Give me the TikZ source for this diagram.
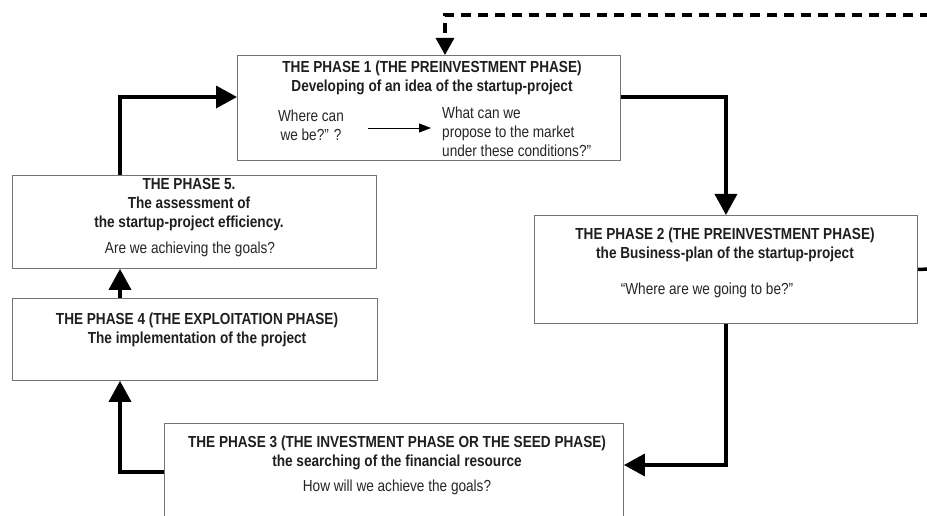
\documentclass[tikz,border=0pt]{standalone}
\usepackage{fontspec}
\setmainfont{Liberation Sans}[FakeStretch=0.85]
\usetikzlibrary{arrows.meta,calc}
\begin{document}
\begin{tikzpicture}[x=1pt,y=-1pt,
  box/.style={draw=black!55, line width=0.9pt, fill=white, inner sep=0pt, anchor=north west},
  ttl/.style={font=\bfseries\fontsize{16}{19}\selectfont, text=black!88, align=center, inner sep=0pt},
  txt/.style={font=\fontsize{16}{19}\selectfont, text=black!85, inner sep=0pt},
  flow/.style={line width=3.5pt, -{Triangle[width=22pt,length=21pt]}},
  feed/.style={line width=3.2pt, dash pattern=on 10pt off 7pt, -{Triangle[width=18pt,length=17pt]}},
  small/.style={line width=0.9pt, -{Triangle[width=9pt,length=12pt]}}]
\clip (0,0) rectangle (927,516);
\fill[white] (0,0) rectangle (927,516);
% boxes
\node[box, minimum width=383pt, minimum height=105pt] (b1) at (237,55) {};
\node[box, minimum width=383pt, minimum height=108pt] (b2) at (534,215) {};
\node[box, minimum width=459pt, minimum height=120pt] (b3) at (164,423) {};
\node[box, minimum width=365pt, minimum height=82pt] (b4) at (12,298) {};
\node[box, minimum width=364pt, minimum height=93pt] (b5) at (12,175) {};
% texts box 1
\node[ttl] (t1) at (432,77.5) {THE PHASE 1 (THE PREINVESTMENT PHASE)\\Developing of an idea of the startup-project};
\node[txt, align=center] (q1) at (311,125.5) {Where can\\we be?” ?};
\node[txt, align=left, anchor=west] (q2) at (442,132) {What can we\\propose to the market\\under these conditions?”};
\coordinate (a1) at (368,128);
\coordinate (a2) at (431,128);
\draw[small] (a1) -- (a2);
% box 2
\node[ttl] (t2) at (725,245) {THE PHASE 2 (THE PREINVESTMENT PHASE)\\the Business-plan of the startup-project};
\node[txt] (q3) at (707,290) {“Where are we going to be?”};
% box 5
\node[ttl] (t5) at (189,204.5) {THE PHASE 5.\\The assessment of\\the startup-project efficiency.};
\node[txt] (q5) at (190,249) {Are we achieving the goals?};
% box 4
\node[ttl] (t4) at (197,330) {THE PHASE 4 (THE EXPLOITATION PHASE)\\The implementation of the project};
% box 3
\node[ttl] (t3) at (397,453) {THE PHASE 3 (THE INVESTMENT PHASE OR THE SEED PHASE)\\the searching of the financial resource};
\node[txt] (q4) at (397,487) {How will we achieve the goals?};
% connectors
\draw[flow] ($(b1.north east)+(0,42)$) -| (b2.north);
\draw[flow] (b2.south) |- ($(b3.north east)+(0,42)$);
\draw[flow] ($(b3.north west)+(0,49)$) -| ($(b4.south west)+(108,0)$);
\draw[flow] ($(b4.north west)+(108,0)$) -- ($(b5.south west)+(108,0)$);
\draw[flow] ($(b5.north west)+(108,0)$) |- ($(b1.north west)+(0,42)$);
\coordinate (fs) at (930,15);
\draw[feed] (fs) -| ($(b1.north west)+(208,0)$);
\coordinate (se) at (930,269);
\draw[line width=3.5pt] (b2.east) -- (se);
\end{tikzpicture}
\end{document}
